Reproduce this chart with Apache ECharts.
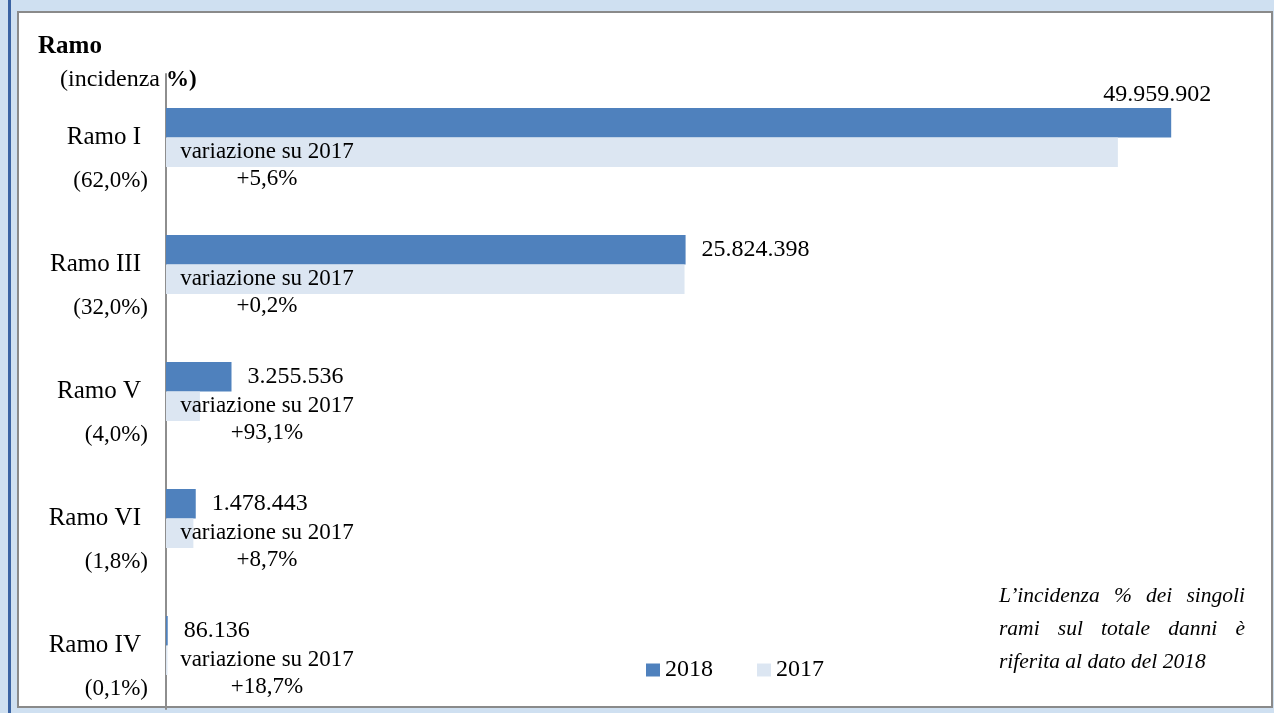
<!DOCTYPE html>
<html>
<head>
<meta charset="utf-8">
<title>Rami</title>
<script src="https://cdn.jsdelivr.net/npm/echarts@6/dist/echarts.min.js"></script>
<style>
    html, body { margin: 0; padding: 0; width: 1274px; height: 713px; overflow: hidden; background: #cfe0f1; }
    #edge { position: absolute; left: 8px; top: 0; width: 3px; height: 713px; background: #3a63a3; }
    #frame { position: absolute; left: 17px; top: 11px; width: 1252px; height: 693px; background: #fff; border: 2px solid #8a8a8a; }
    #main { position: absolute; left: 0; top: 0; width: 1274px; height: 713px; }
</style>
</head>
<body>
<div id="edge"></div>
<div id="frame"></div>
<div id="main"></div>
<script>
    // dati
    const categories = ['Ramo I', 'Ramo III', 'Ramo V', 'Ramo VI', 'Ramo IV']
    const shares = ['(62,0%)', '(32,0%)', '(4,0%)', '(1,8%)', '(0,1%)']
    const values2018 = [49959902, 25824398, 3255536, 1478443, 86136]
    const values2017 = [47310000, 25772000, 1686000, 1360000, 72600]
    const changes = ['+5,6%', '+0,2%', '+93,1%', '+8,7%', '+18,7%']
    const legendNames = ['2018', '2017']
    const noteLines = ['L’incidenza % dei singoli', 'rami sul totale danni è', 'riferita al dato del 2018']

    const FONT = '"Liberation Serif", "Times New Roman", serif'

    function fmt(v) {
        return String(v).replace(/\B(?=(\d{3})+(?!\d))/g, '.')
    }

    // testo giustificato della nota (come nella casella di Excel)
    function noteGraphics() {
        const ctx = document.createElement('canvas').getContext('2d')
        const font = 'italic 21.5px ' + FONT
        ctx.font = font
        const left = 999, width = 246
        const out = []
        noteLines.forEach((line, i) => {
            const y = 585 + 33 * i
            const words = line.split(' ')
            const last = i === noteLines.length - 1
            const total = words.reduce((s, w) => s + ctx.measureText(w).width, 0)
            const gap = last ? ctx.measureText(' ').width : (width - total) / (words.length - 1)
            let x = left
            words.forEach(w => {
                out.push({
                    type: 'text',
                    x: x, y: y,
                    style: { text: w, font: font, fill: '#000' }
                })
                x += ctx.measureText(w).width + gap
            })
        })
        return out
    }

    const chart = echarts.init(document.getElementById('main'))

    chart.setOption({
        backgroundColor: 'transparent',
        animation: false,
        title: [
            {
                text: 'Ramo', left: 33, top: 29,
                textStyle: { fontFamily: FONT, fontSize: 25, fontWeight: 'bold', color: '#000' }
            },
            {
                text: '{n|(incidenza }{b|%)}', left: 55, top: 63,
                textStyle: {
                    fontWeight: 'normal',
                    rich: {
                        n: { fontFamily: FONT, fontSize: 24, fontWeight: 'normal', color: '#000' },
                        b: { fontFamily: FONT, fontSize: 23, fontWeight: 'bold', color: '#000' }
                    }
                }
            }
        ],
        legend: {
            data: legendNames,
            left: 641, top: 653,
            icon: 'rect',
            itemWidth: 14, itemHeight: 13, itemGap: 44,
            textStyle: { fontFamily: FONT, fontSize: 24, color: '#000', lineHeight: 24 }
        },
        grid: { left: 166, top: 74, width: 1006, height: 635, containLabel: false },
        xAxis: {
            type: 'value', min: 0, max: 50000000, show: false
        },
        yAxis: {
            type: 'category',
            inverse: true,
            data: categories,
            axisTick: { show: false },
            axisLine: { lineStyle: { color: '#8e8e8e', width: 2 } },
            axisLabel: {
                margin: 18,
                align: 'right',
                formatter: function (val, idx) {
                    return '{e| }\n{n|' + val + '}\n{p|' + shares[idx] + '}'
                },
                rich: {
                    e: { fontSize: 24, lineHeight: 43 },
                    n: { fontFamily: FONT, fontSize: 25, color: '#000', lineHeight: 43, padding: [0, 7, 0, 0] },
                    p: { fontFamily: FONT, fontSize: 23, color: '#000', lineHeight: 43 }
                }
            }
        },
        series: [
            {
                name: '2018',
                type: 'bar',
                barWidth: 29.5,
                barGap: '0%',
                itemStyle: { color: '#4f81bd' },
                data: values2018.map((v, i) => i === 0
                    ? { value: v, label: { offset: [-84, -28] } }
                    : v),
                label: {
                    show: true,
                    position: 'right',
                    distance: 16,
                    fontFamily: FONT, fontSize: 24, color: '#000',
                    formatter: p => fmt(p.value)
                }
            },
            {
                name: '2017',
                type: 'bar',
                barWidth: 29.5,
                barGap: '0%',
                itemStyle: { color: '#dce6f2' },
                data: values2017,
                label: {
                    show: true,
                    position: [101, 1],
                    align: 'center',
                    verticalAlign: 'top',
                    fontFamily: FONT, fontSize: 23, color: '#000', lineHeight: 27,
                    formatter: p => 'variazione su 2017\n' + changes[p.dataIndex]
                }
            }
        ],
        graphic: noteGraphics()
    })
</script>
</body>
</html>
